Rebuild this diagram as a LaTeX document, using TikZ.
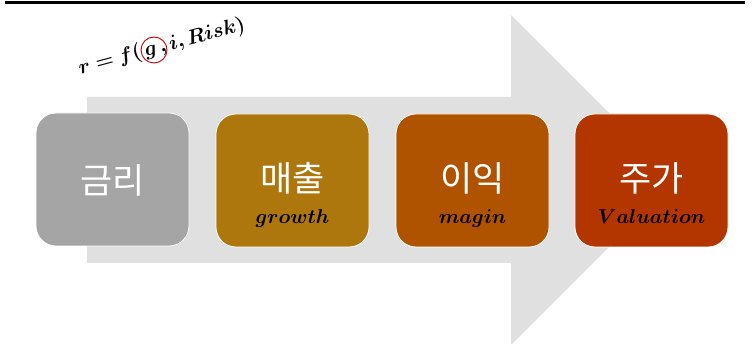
\documentclass[tikz,border=0pt]{standalone}
\usepackage{bm}
\usepackage{fontspec}
\newfontfamily\krfont{Noto Sans CJK KR}
\definecolor{arrowgray}{HTML}{E0E0E0}
\definecolor{boxA}{HTML}{A5A5A5}
\definecolor{boxB}{HTML}{AD770E}
\definecolor{boxC}{HTML}{AF5300}
\definecolor{boxD}{HTML}{B33600}
\definecolor{circred}{HTML}{C00000}
\newcommand{\enlabel}[1]{\scalebox{1.16}{$\bm{#1}$}}
\begin{document}
\begin{tikzpicture}[x=1pt,y=-1pt,
  stage/.style={draw=white, line width=0.8pt, rounded corners=20pt, minimum width=153pt, minimum height=133pt, inner sep=0pt},
  kr/.style={text=white, font=\krfont\fontsize{35}{38}\selectfont, inner sep=0pt},
  en/.style={text=black, font=\fontsize{19}{22}\selectfont, inner sep=0pt}]
\useasboundingbox (0,0) rectangle (752,344);
% top rule
\draw[line width=3pt] (5,3) -- (745,3);
% big arrow
\fill[arrowgray] (87,97) -- (511,97) -- (511,15) -- (676,180) -- (511,345) -- (511,263) -- (87,263) -- cycle;
% stages
\node[stage, fill=boxA] (s1) at (112.5,179.5) {};
\node[stage, fill=boxB] (s2) at (292.5,180.5) {};
\node[stage, fill=boxC] (s3) at (472.5,180.5) {};
\node[stage, fill=boxD] (s4) at (651.5,180.5) {};
\node[kr] (t1) at (112.5,180) {금리};
\node[kr] (t2) at (292.5,178) {매출};
\node[kr] (t3) at (472.5,178) {이익};
\node[kr] (t4) at (651.5,178) {주가};
\node[en, anchor=base] (e2) at (292.5,224) {\enlabel{growth}};
\node[en, anchor=base] (e3) at (472.5,224) {\enlabel{magin}};
\node[en, anchor=base] (e4) at (651.5,224) {\enlabel{Valuation}};
% formula
\node[rotate=15, font=\fontsize{20}{24}\selectfont, inner sep=0pt] (f) at (162,47) {$\bm{r = f(\,g\,, i, Risk)}$};
\draw[circred, line width=0.9pt] (154,50) circle (13);
\end{tikzpicture}
\end{document}
